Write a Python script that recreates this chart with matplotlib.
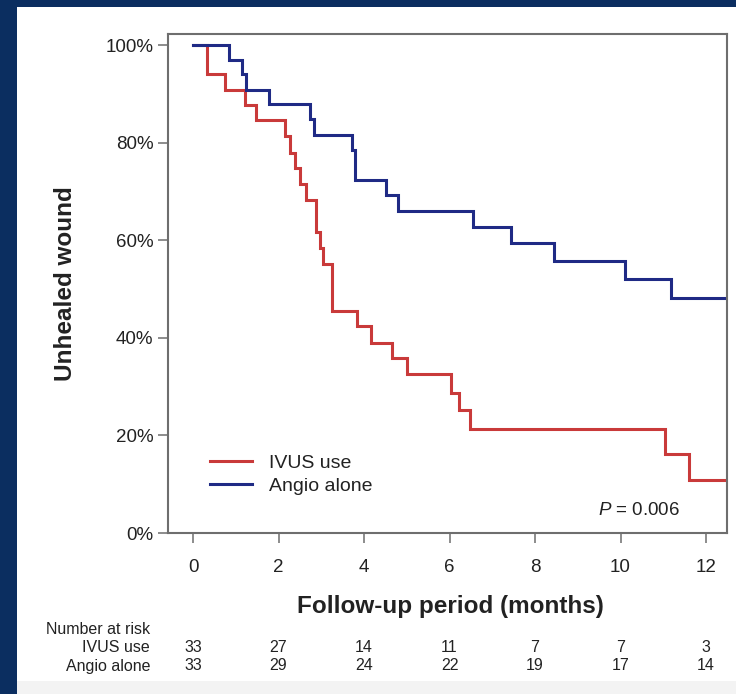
import matplotlib
matplotlib.use("Agg")
from matplotlib import pyplot as plt
from matplotlib.patches import Rectangle
from matplotlib.lines import Line2D
import matplotlib.transforms as mtransforms

# Kaplan-Meier steps (months, % unhealed)
ivus_t = [0, 0.32, 0.75, 1.22, 1.47, 2.15, 2.27, 2.39, 2.50, 2.64, 2.88, 2.96,
          3.05, 3.24, 3.83, 4.16, 4.65, 5.00, 6.03, 6.23, 6.48, 11.03, 11.59, 12.5]
ivus_s = [100, 94.0, 90.9, 87.8, 84.6, 81.3, 78.0, 74.8, 71.6, 68.2, 61.8, 58.5,
          55.2, 45.6, 42.4, 38.9, 35.9, 32.6, 28.8, 25.2, 21.4, 16.2, 10.8, 10.8]

angio_t = [0, 0.84, 1.14, 1.24, 1.78, 2.74, 2.83, 3.72, 3.79, 4.52, 4.80,
           6.54, 7.43, 8.45, 10.10, 11.17, 12.5]
angio_s = [100, 97.0, 94.0, 90.9, 87.9, 84.9, 81.6, 78.5, 72.3, 69.2, 66.0,
           62.8, 59.5, 55.8, 52.0, 48.2, 48.2]

risk_times = [0, 2, 4, 6, 8, 10, 12]
risk_ivus = [33, 27, 14, 11, 7, 7, 3]
risk_angio = [33, 29, 24, 22, 19, 17, 14]

y_ticks = [0, 20, 40, 60, 80, 100]
y_labels = ["0%", "20%", "40%", "60%", "80%", "100%"]

navy = "#0b2e60"
red = "#c93a3a"
blue = "#1f2a85"
txt = "#222222"
spine_col = "#6e6e6e"

plt.rcParams.update({
    "font.family": ["Liberation Sans", "DejaVu Sans"],
    "mathtext.fontset": "custom",
    "mathtext.it": "Liberation Sans:italic",
    "mathtext.rm": "Liberation Sans",
})

W, H = 736, 694
fig = plt.figure(figsize=(W / 100, H / 100), dpi=100)
fig.patch.set_facecolor(navy)

# white panel and pale strip at the bottom
fig.patches.append(Rectangle((17 / W, 13 / H), 1 - 17 / W, (681 - 7) / H,
                             transform=fig.transFigure, facecolor="white", edgecolor="none", zorder=-10))
fig.patches.append(Rectangle((17 / W, 0), 1 - 17 / W, 13 / H,
                             transform=fig.transFigure, facecolor="#f3f3f3", edgecolor="none", zorder=-10))

ax = fig.add_axes([168 / W, 1 - 533 / H, (727 - 168) / W, (533 - 34) / H])
ax.set_facecolor("white")

ax.step(ivus_t, ivus_s, where="post", color=red, lw=2.2, solid_joinstyle="miter")
ax.step(angio_t, angio_s, where="post", color=blue, lw=2.2, solid_joinstyle="miter")

ax.set_xlim(-0.585, 12.49)
ax.set_ylim(0, 102.3)
ax.set_xticks(risk_times)
ax.set_yticks(y_ticks)
ax.set_yticklabels(y_labels)

for s in ax.spines.values():
    s.set_color(spine_col)
    s.set_linewidth(1.5)
ax.tick_params(axis="both", direction="out", length=7.5, width=1.1, color=spine_col,
               labelsize=13.5, labelcolor=txt)
ax.tick_params(axis="x", pad=11)
ax.tick_params(axis="y", pad=3)

fig.text(66 / W, 1 - 284 / H, "Unhealed wound", rotation=90, ha="center", va="center",
         fontsize=17.5, fontweight="bold", color=txt)
fig.text(450 / W, 1 - 607 / H, "Follow-up period (months)", ha="center", va="center",
         fontsize=17.5, fontweight="bold", color=txt)

handles = [Line2D([], [], color=red, lw=2.2), Line2D([], [], color=blue, lw=2.2)]
ax.legend(handles, ["IVUS use", "Angio alone"], loc="upper left",
          bbox_to_anchor=(0.075, 0.158), frameon=False, fontsize=14,
          handlelength=2.15, handletextpad=0.9, labelspacing=0.3,
          borderpad=0, borderaxespad=0, labelcolor=txt)

ax.text(0.916, 0.046, "$P$ = 0.006", transform=ax.transAxes, ha="right", va="center",
        fontsize=13.5, color=txt)

# number at risk table
blend = mtransforms.blended_transform_factory(ax.transData, fig.transFigure)
fig.text(150 / W, 1 - 629 / H, "Number at risk", ha="right", va="center", fontsize=11.5, color=txt)
fig.text(150 / W, 1 - 648 / H, "IVUS use", ha="right", va="center", fontsize=11.5, color=txt)
fig.text(150 / W, 1 - 666 / H, "Angio alone", ha="right", va="center", fontsize=11.5, color=txt)
for t, a, b in zip(risk_times, risk_ivus, risk_angio):
    ax.text(t, 1 - 648 / H, str(a), transform=blend, ha="center", va="center",
            fontsize=11.5, color=txt, clip_on=False)
    ax.text(t, 1 - 666 / H, str(b), transform=blend, ha="center", va="center",
            fontsize=11.5, color=txt, clip_on=False)

fig.savefig("out.png", dpi=100, facecolor=fig.get_facecolor())
